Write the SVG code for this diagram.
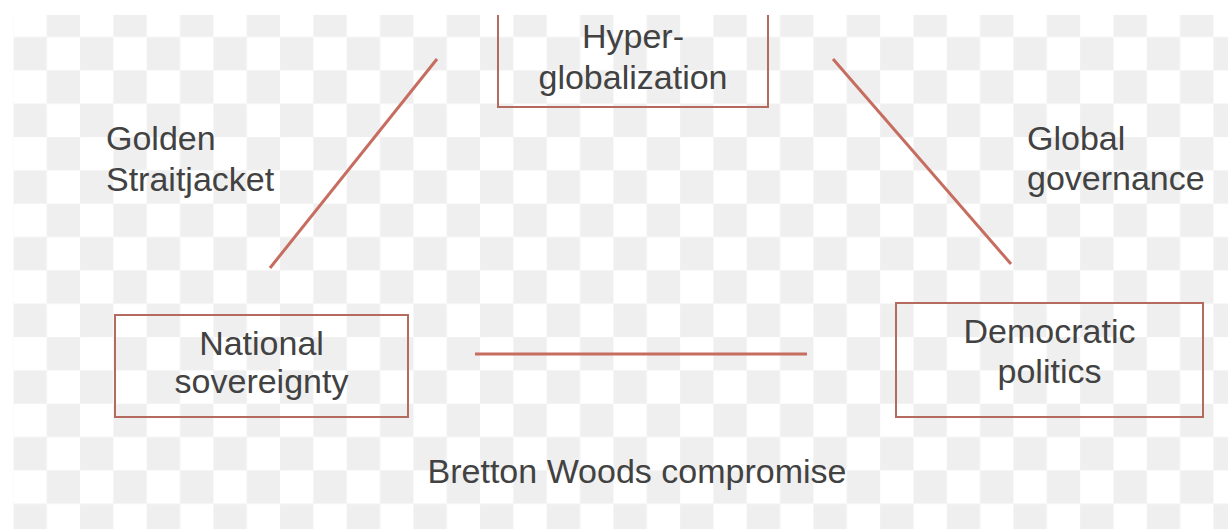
<svg xmlns="http://www.w3.org/2000/svg" width="1228" height="529" viewBox="0 0 1228 529">
<defs>
<pattern id="checker" patternUnits="userSpaceOnUse" x="13.4" y="3.7" width="66.67" height="66.67">
<rect x="0" y="0" width="66.67" height="66.67" fill="#ffffff"/>
<rect x="33.33" y="0" width="33.34" height="33.33" fill="#efefef"/>
<rect x="0" y="33.33" width="33.33" height="33.34" fill="#efefef"/>
</pattern>
<style>
.box{fill:none;stroke:#b56a5f;stroke-width:2}
.edge{stroke:#c66d60;stroke-width:3;stroke-linecap:butt}
.t{font-family:"Liberation Sans",Arial,sans-serif;font-size:34px;fill:#424242}
.c{text-anchor:middle}
</style>
</defs>
<rect x="0" y="0" width="1228" height="529" fill="url(#checker)"/>
<rect x="0" y="0" width="13.4" height="529" fill="#ffffff"/>
<g id="connectors">
<line class="edge" x1="270" y1="268" x2="437" y2="59"/>
<line class="edge" x1="833" y1="59" x2="1011" y2="264"/>
<line class="edge" x1="475" y1="354" x2="807" y2="354"/>
</g>
<g id="hyperglobalization">
<rect class="box" x="498" y="-20" width="270" height="127"/>
<text class="t c" x="633" y="48">Hyper-</text>
<text class="t c" x="633" y="89">globalization</text>
</g>
<rect x="0" y="0" width="1228" height="15" fill="#ffffff"/>
<g id="national-sovereignty">
<rect class="box" x="115" y="315" width="293" height="102"/>
<text class="t c" x="261.5" y="355">National</text>
<text class="t c" x="261.5" y="393">sovereignty</text>
</g>
<g id="democratic-politics">
<rect class="box" x="896" y="303" width="307" height="114"/>
<text class="t c" x="1049.5" y="343">Democratic</text>
<text class="t c" x="1049.5" y="383">politics</text>
</g>
<g id="label-golden">
<text class="t" x="106" y="150">Golden</text>
<text class="t" x="106" y="191">Straitjacket</text>
</g>
<g id="label-global">
<text class="t" x="1027" y="150">Global</text>
<text class="t" x="1027" y="190">governance</text>
</g>
<g id="label-bretton">
<text class="t c" x="637" y="483">Bretton Woods compromise</text>
</g>
</svg>
